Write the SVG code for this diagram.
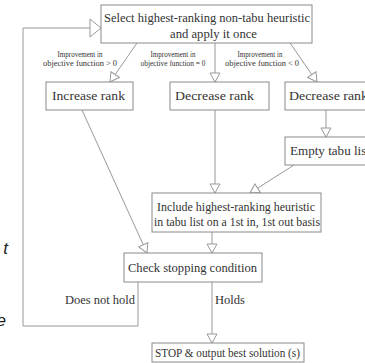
<svg xmlns="http://www.w3.org/2000/svg" width="365" height="363" viewBox="0 0 365 363">
<style>
.box{fill:#fff;stroke:#8a8a8a;stroke-width:1}
.t{font-family:"Liberation Serif","Times New Roman",serif;font-size:13px;fill:#333;text-anchor:middle}
.s{font-family:"Liberation Serif","Times New Roman",serif;font-size:8.5px;fill:#333;text-anchor:middle}
.l{font-family:"Liberation Serif","Times New Roman",serif;font-size:12.5px;fill:#333}
.c{fill:none;stroke:#999;stroke-width:1}
.x{font-family:"Liberation Sans",Arial,sans-serif;font-size:17px;font-style:italic;fill:#222;text-anchor:end}
</style>
<defs>
<marker id="ah" markerUnits="userSpaceOnUse" markerWidth="12" markerHeight="12" viewBox="0 0 12 12" refX="10" refY="6" orient="auto">
<path d="M1,1 L10,6 L1,11 Z" fill="#fff" stroke="#999" stroke-width="1"/>
</marker>
<marker id="ahb" markerUnits="userSpaceOnUse" markerWidth="14" markerHeight="20" viewBox="0 0 14 20" refX="12" refY="10" orient="auto">
<path d="M1,1 L12,10 L1,19 Z" fill="#fff" stroke="#999" stroke-width="1"/>
</marker>
</defs>
<rect width="365" height="363" fill="#fff"/>
<text class="x" x="8" y="254">t</text>
<text class="x" x="6" y="326">e</text>
<g id="connectors">
<line class="c" x1="137" y1="43" x2="110" y2="82" marker-end="url(#ah)"/>
<line class="c" x1="215" y1="43" x2="215" y2="82" marker-end="url(#ah)"/>
<line class="c" x1="290" y1="43" x2="317" y2="82" marker-end="url(#ah)"/>
<line class="c" x1="215" y1="110" x2="215" y2="193" marker-end="url(#ah)"/>
<line class="c" x1="326" y1="110" x2="326" y2="137" marker-end="url(#ah)"/>
<line class="c" x1="294" y1="165" x2="250" y2="193" marker-end="url(#ah)"/>
<line class="c" x1="82" y1="110" x2="147" y2="253" marker-end="url(#ah)"/>
<line class="c" x1="212" y1="232" x2="212" y2="253" marker-end="url(#ah)"/>
<line class="c" x1="212" y1="282" x2="212" y2="343" marker-end="url(#ah)"/>
<polyline class="c" points="138,282 138,326 23,326 23,28 101,28" marker-end="url(#ahb)"/>
<text class="s" x="80" y="57" textLength="45" lengthAdjust="spacingAndGlyphs">Improvement in</text>
<text class="s" x="80" y="66" textLength="74" lengthAdjust="spacingAndGlyphs">objective function &gt; 0</text>
<text class="s" x="173" y="57" textLength="45" lengthAdjust="spacingAndGlyphs">Improvement in</text>
<text class="s" x="173" y="66" textLength="65" lengthAdjust="spacingAndGlyphs">objective function = 0</text>
<text class="s" x="260" y="57" textLength="45" lengthAdjust="spacingAndGlyphs">Improvement in</text>
<text class="s" x="262" y="66" textLength="74" lengthAdjust="spacingAndGlyphs">objective function &lt; 0</text>
<text class="l" x="65" y="304" textLength="70" lengthAdjust="spacingAndGlyphs">Does not hold</text>
<text class="l" x="215" y="304" textLength="30" lengthAdjust="spacingAndGlyphs">Holds</text>
</g>
<g id="select">
<rect class="box" x="101" y="5" width="211" height="38"/>
<text class="t" x="207" y="22" textLength="206" lengthAdjust="spacingAndGlyphs">Select highest-ranking non-tabu heuristic</text>
<text class="t" x="213.5" y="38" textLength="87" lengthAdjust="spacingAndGlyphs">and apply it once</text>
</g>
<g id="increase">
<rect class="box" x="46" y="82" width="87" height="28"/>
<text class="t" x="88.5" y="100" textLength="73" lengthAdjust="spacingAndGlyphs">Increase rank</text>
</g>
<g id="decrease1">
<rect class="box" x="170" y="82" width="99" height="28"/>
<text class="t" x="214.5" y="100" textLength="79" lengthAdjust="spacingAndGlyphs">Decrease rank</text>
</g>
<g id="decrease2">
<rect class="box" x="285" y="82" width="90" height="28"/>
<text class="t" x="328.5" y="100" textLength="79" lengthAdjust="spacingAndGlyphs">Decrease rank</text>
</g>
<g id="empty">
<rect class="box" x="285" y="137" width="90" height="28"/>
<text class="t" x="330" y="155" textLength="80" lengthAdjust="spacingAndGlyphs">Empty tabu list</text>
</g>
<g id="include">
<rect class="box" x="152" y="193" width="169" height="39"/>
<text class="t" x="236" y="211" textLength="158" lengthAdjust="spacingAndGlyphs">Include highest-ranking heuristic</text>
<text class="t" x="237" y="226" textLength="166" lengthAdjust="spacingAndGlyphs">in tabu list on a 1st in, 1st out basis</text>
</g>
<g id="check">
<rect class="box" x="124" y="253" width="138" height="29"/>
<text class="t" x="192.5" y="272" textLength="129" lengthAdjust="spacingAndGlyphs">Check stopping condition</text>
</g>
<g id="stop">
<rect class="box" x="152" y="343" width="152" height="19"/>
<text class="t" x="227.5" y="357" font-size="12" textLength="145" lengthAdjust="spacingAndGlyphs">STOP &amp; output best solution (s)</text>
</g>
</svg>
